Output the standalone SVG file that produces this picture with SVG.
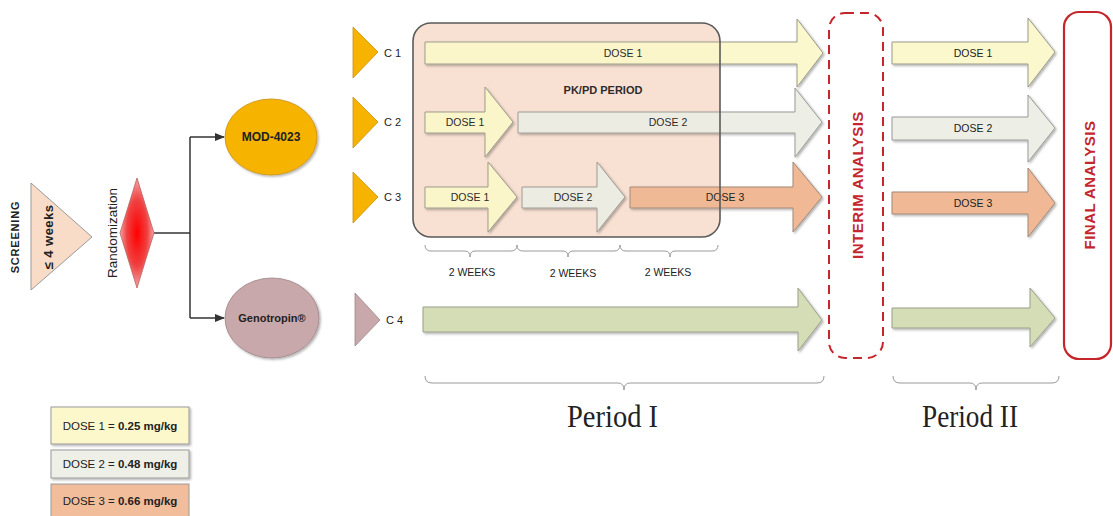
<svg xmlns="http://www.w3.org/2000/svg" width="1113" height="516" viewBox="0 0 1113 516">
<defs>
<style>
.t{font-family:"Liberation Sans",Arial,sans-serif;fill:#222;}
.lbl{font-size:10.5px;text-anchor:middle;dominant-baseline:central;}
.d1{fill:#fcf8cd;stroke:#9a9a8a;stroke-width:1;}
.d2{fill:#edefe7;stroke:#9a9a96;stroke-width:1;}
.d3{fill:#f0b894;stroke:#a08878;stroke-width:1;}
.d4{fill:#d5ddb6;stroke:#9aa08a;stroke-width:1;}
.gold{fill:#f6b400;stroke:#c98f10;stroke-width:0.8;}
.mauve{fill:#c9a8ab;stroke:#9c8587;stroke-width:0.8;}
.conn{stroke:#333;stroke-width:1.5;fill:none;}
.brace{stroke:#9a9a9a;stroke-width:1;fill:none;}
.red{fill:#c4262c;font-weight:bold;font-size:15px;letter-spacing:0.5px;text-anchor:middle;dominant-baseline:central;}
.per{font-family:"Liberation Serif","Times New Roman",serif;font-size:31px;fill:#222;}
.sh{filter:url(#shadow);}
</style>
<radialGradient id="rg" cx="0.5" cy="0.5" r="0.5">
<stop offset="0" stop-color="#ff0000"/>
<stop offset="0.6" stop-color="#f04040"/>
<stop offset="1" stop-color="#f4a6a6"/>
</radialGradient>
<marker id="ah" markerWidth="10" markerHeight="8" refX="9" refY="4" orient="auto" markerUnits="userSpaceOnUse">
<path d="M0,0 L10,4 L0,8 Z" fill="#333"/>
</marker>
<filter id="shadow" x="-5%" y="-10%" width="115%" height="130%">
<feDropShadow dx="1.5" dy="1.5" stdDeviation="1" flood-color="#000" flood-opacity="0.3"/>
</filter>
</defs>
<rect width="1113" height="516" fill="#fff"/>

<g id="connectors">
<path class="conn" d="M154,233 H190"/>
<path class="conn" d="M190,137 V318"/>
<path class="conn" d="M190,137 H224" marker-end="url(#ah)"/>
<path class="conn" d="M190,318 H224" marker-end="url(#ah)"/>
</g>

<g id="screening">
<text class="t" transform="translate(15,237) rotate(-90)" font-size="11" font-weight="bold" letter-spacing="0.8" text-anchor="middle" dominant-baseline="central">SCREENING</text>
<polygon points="31,183 92,237 31,290" fill="#f9dcc8" stroke="#999" stroke-width="1"/>
<text class="t" transform="translate(48,237) rotate(-90)" font-size="13" font-weight="bold" letter-spacing="0.5" text-anchor="middle" dominant-baseline="central">≤  4 weeks</text>
</g>

<g id="randomization">
<text class="t" transform="translate(112,233) rotate(-90)" font-size="13.5" text-anchor="middle" dominant-baseline="central">Randomization</text>
<polygon points="137,178 154,233 137,288 120,233" fill="url(#rg)" stroke="#b86060" stroke-width="0.8"/>
</g>

<g id="mod4023">
<ellipse cx="271" cy="137" rx="46" ry="38" class="gold sh"/>
<text class="t" x="271" y="137" font-size="12" font-weight="bold" text-anchor="middle" dominant-baseline="central">MOD-4023</text>
</g>

<g id="genotropin">
<ellipse cx="272" cy="318" rx="47" ry="40" class="mauve sh"/>
<text class="t" x="272" y="318" font-size="11" font-weight="bold" text-anchor="middle" dominant-baseline="central">Genotropin®</text>
</g>

<g id="c1"><polygon points="353,27 378,52 353,78" class="gold"/><text class="t" x="384" y="53" font-size="11" dominant-baseline="central">C 1</text></g>
<g id="c2"><polygon points="353,97 378,122 353,148" class="gold"/><text class="t" x="384" y="122" font-size="11" dominant-baseline="central">C 2</text></g>
<g id="c3"><polygon points="353,172 378,197 353,223" class="gold"/><text class="t" x="384" y="197" font-size="11" dominant-baseline="central">C 3</text></g>
<g id="c4"><polygon points="355,293 380,320 355,346" class="mauve"/><text class="t" x="386" y="320" font-size="11" dominant-baseline="central">C 4</text></g>

<g id="pkpd">
<rect x="413" y="23" width="307" height="214" rx="18" fill="#f9e2d6"/>
<text class="t" x="603" y="90" font-size="11" font-weight="bold" text-anchor="middle" dominant-baseline="central">PK/PD PERIOD</text>
</g>

<g id="c1-dose1">
<path class="d1 sh" d="M425,42 H797 V19 L823,53 L797,87 V64 H425 Z"/>
<text class="t lbl" x="623" y="53">DOSE 1</text>
</g>
<g id="c2-dose1">
<path class="d1 sh" d="M425,112 H485 V87 L513,122 L485,157 V133 H425 Z"/>
<text class="t lbl" x="465" y="122">DOSE 1</text>
</g>
<g id="c2-dose2">
<path class="d2 sh" d="M518,112 H795 V88 L822,122 L795,157 V133 H518 Z"/>
<text class="t lbl" x="668" y="122">DOSE 2</text>
</g>
<g id="c3-dose1">
<path class="d1 sh" d="M425,187 H488 V162 L517,197 L488,232 V208 H425 Z"/>
<text class="t lbl" x="470" y="197">DOSE 1</text>
</g>
<g id="c3-dose2">
<path class="d2 sh" d="M522,187 H597 V162 L625,197 L597,232 V208 H522 Z"/>
<text class="t lbl" x="573" y="197">DOSE 2</text>
</g>
<g id="c3-dose3">
<path class="d3 sh" d="M630,187 H793 V162 L822,197 L793,232 V208 H630 Z"/>
<text class="t lbl" x="725" y="197">DOSE 3</text>
</g>
<g id="c4-p1">
<path class="d4 sh" d="M423,307 H798 V288 L822,320 L798,351 V332 H423 Z"/>
</g>

<g id="pkpd-outline">
<rect x="413" y="23" width="307" height="214" rx="18" fill="#f3c7b0" fill-opacity="0.06" stroke="#5a5a5a" stroke-width="1.6"/>
</g>

<g id="interim">
<rect x="829" y="13" width="54" height="345" rx="16" fill="none" stroke="#c4262c" stroke-width="2" stroke-dasharray="9,6"/>
<text class="t red" transform="translate(857,185) rotate(-90)">INTERIM ANALYSIS</text>
</g>

<g id="p2-dose1">
<path class="d1 sh" d="M892,42 H1028 V18 L1055,52 L1028,87 V64 H892 Z"/>
<text class="t lbl" x="973" y="53">DOSE 1</text>
</g>
<g id="p2-dose2">
<path class="d2 sh" d="M892,117 H1028 V95 L1055,128 L1028,162 V140 H892 Z"/>
<text class="t lbl" x="973" y="128">DOSE 2</text>
</g>
<g id="p2-dose3">
<path class="d3 sh" d="M892,192 H1028 V168 L1055,203 L1028,237 V214 H892 Z"/>
<text class="t lbl" x="973" y="203">DOSE 3</text>
</g>
<g id="p2-c4">
<path class="d4 sh" d="M892,308 H1030 V288 L1055,318 L1030,347 V328 H892 Z"/>
</g>

<g id="final">
<rect x="1064" y="12" width="47" height="347" rx="15" fill="#fff" stroke="#c4262c" stroke-width="2.2"/>
<text class="t red" transform="translate(1089,185) rotate(-90)">FINAL ANALYSIS</text>
</g>

<g id="weeks">
<path class="brace" d="M425,245 q0,6 6,6 H465 q5,0 5,6 q0,-6 5,-6 H511 q6,0 6,-6"/>
<path class="brace" d="M517,245 q0,6 6,6 H563 q5,0 5,6 q0,-6 5,-6 H614 q6,0 6,-6"/>
<path class="brace" d="M620,245 q0,6 6,6 H665 q5,0 5,6 q0,-6 5,-6 H712 q6,0 6,-6"/>
<text class="t lbl" x="472" y="272">2 WEEKS</text>
<text class="t lbl" x="573" y="273">2 WEEKS</text>
<text class="t lbl" x="668" y="272">2 WEEKS</text>
</g>

<g id="periods">
<path class="brace" d="M425,376 q0,7 7,7 H618 q6,0 6,7 q0,-7 6,-7 H817 q7,0 7,-7"/>
<path class="brace" d="M893,376 q0,7 7,7 H970 q6,0 6,7 q0,-7 6,-7 H1052 q7,0 7,-7"/>
<text class="per" x="567" y="427" textLength="91" lengthAdjust="spacingAndGlyphs">Period I</text>
<text class="per" x="922" y="427" textLength="96" lengthAdjust="spacingAndGlyphs">Period II</text>
</g>

<g id="legend">
<rect x="51" y="407" width="138" height="37" fill="#fdf8cc" stroke="#999" class="sh"/>
<text class="t" x="120" y="426" font-size="11.5" text-anchor="middle" dominant-baseline="central">DOSE 1 = <tspan font-weight="bold">0.25 mg/kg</tspan></text>
<rect x="51" y="450" width="138" height="28" fill="#eef0e8" stroke="#999" class="sh"/>
<text class="t" x="120" y="464" font-size="11.5" text-anchor="middle" dominant-baseline="central">DOSE 2 = <tspan font-weight="bold">0.48 mg/kg</tspan></text>
<rect x="51" y="484" width="138" height="36" fill="#f2bd9b" stroke="#999"/>
<text class="t" x="120" y="501" font-size="11.5" text-anchor="middle" dominant-baseline="central">DOSE 3 = <tspan font-weight="bold">0.66 mg/kg</tspan></text>
</g>
</svg>
